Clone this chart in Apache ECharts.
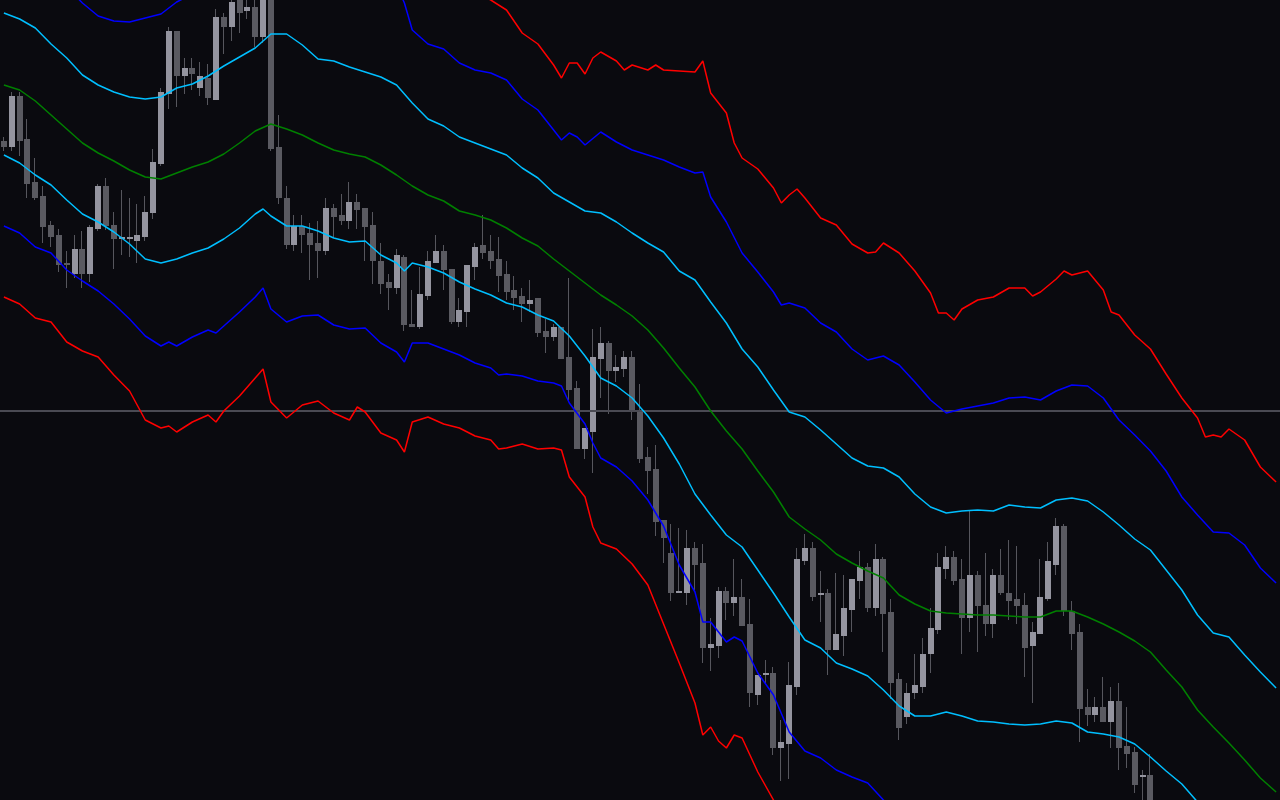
<!DOCTYPE html>
<html><head><meta charset="utf-8">
<script src="https://cdn.jsdelivr.net/npm/echarts@6/dist/echarts.min.js"></script>
<style>html,body{margin:0;padding:0;background:#0a0a0f;overflow:hidden}#c{width:1280px;height:800px}</style>
</head><body><div id="c"></div><script>
// Values are on an inverted price scale (axis runs downward, 0..800 units).
const opens=[141,147,96,139,182,196,225,235,263,274,249,274,229,186,225,239,239,241,237,213,164,94,31,76,68,88,78,100,17,27,-4,11,7,37,-2,147,198,245,226,233,243,251,208,215,221,202,208,225,261,282,288,257,324,327,296,263,251,269,322,312,267,245,251,259,274,290,296,304,298,331,337,327,357,388,449,432,359,343,371,369,357,410,457,469,520,553,593,593,548,563,648,646,591,603,597,624,695,675,673,748,744,687,561,548,595,593,650,636,610,581,567,608,559,612,679,717,693,687,654,630,569,557,579,618,575,605,624,575,593,599,605,646,634,599,565,526,611,632,707,715,707,722,701,746,752,777,775];
const closes=[147,96,141,184,198,227,237,265,265,249,274,227,186,226,239,237,237,235,212,162,92,31,76,68,74,76,98,17,27,2,13,7,37,-3,149,198,245,226,235,245,251,208,217,221,202,210,227,261,284,288,255,325,327,294,261,251,270,322,310,265,247,253,261,276,292,298,304,300,333,337,327,359,390,449,428,357,343,371,367,357,412,459,471,522,538,593,591,548,565,648,644,591,603,597,626,693,675,673,748,742,685,559,548,597,593,650,634,608,579,567,608,559,614,683,728,693,685,654,628,567,557,581,618,575,606,624,575,593,601,606,648,632,597,561,526,611,634,709,715,707,722,701,748,754,785,775,815];
const highs=[137,92,92,119,158,186,221,229,251,235,231,225,184,178,212,190,198,204,196,149,88,27,31,58,58,62,64,9,13,-8,-10,-6,-4,-10,-8,115,186,215,215,223,221,198,204,194,182,194,208,212,243,274,249,255,290,267,251,235,245,269,298,265,243,215,235,237,261,276,288,280,298,319,324,327,278,381,428,329,327,341,355,351,351,384,447,445,520,524,528,530,542,544,618,587,587,559,579,599,675,660,667,720,662,548,534,542,571,589,573,575,579,551,563,544,557,599,673,683,654,638,608,553,546,551,559,510,571,553,569,549,540,546,593,622,559,542,518,524,601,624,689,697,677,687,683,707,747,770,754];
const lows=[151,151,156,198,200,243,247,272,288,278,288,282,231,230,269,255,257,263,241,219,166,109,107,94,90,96,105,100,54,41,33,19,47,43,151,204,249,251,253,280,278,255,237,225,229,229,261,284,294,310,294,331,327,329,300,263,290,324,327,327,280,259,269,292,300,310,322,312,337,353,341,359,400,449,459,473,398,414,382,377,420,463,494,536,563,601,593,605,590,663,671,658,620,616,626,707,705,683,755,781,779,695,565,601,622,675,650,656,632,599,612,616,652,699,740,724,699,693,673,634,579,585,654,632,652,636,638,595,620,624,677,703,634,601,575,616,650,742,726,722,722,748,770,768,793,810,825];

// Band lines: [bar index, value]
const midBand=[[0,85],[2,90],[4,101],[6,115],[8,129],[10,143],[12,153],[14,161],[16,170],[18,177],[20,179],[22,173],[24,167],[26,162],[28,154],[30,143],[32,131],[34,124],[36,129],[38,135],[40,143],[42,150],[44,154],[46,157],[48,165],[50,175],[52,186],[54,195],[56,201],[58,211],[60,215],[62,220],[64,228],[66,238],[68,246],[70,259],[72,271],[74,283],[76,295],[78,305],[80,316],[82,330],[84,348],[86,368],[88,387],[90,411],[92,431],[94,449],[96,471],[98,492],[100,517],[102,529],[104,540],[106,554],[108,563],[110,571],[112,578],[114,595],[116,604],[118,611],[120,613],[122,614],[124,615],[126,615],[128,616],[130,617],[132,617],[134,611],[136,611],[138,617],[140,624],[142,632],[144,641],[146,652],[148,670],[150,687],[152,710],[154,727],[156,743],[158,760],[160,778],[162,792]];
const upper1=[[0,13],[2,19],[4,28],[6,44],[8,58],[10,75],[12,85],[14,92],[16,97],[18,99],[20,97],[22,88],[24,84],[26,76],[28,66],[30,57],[32,48],[34,34],[36,34],[38,45],[40,59],[42,61],[44,67],[46,72],[48,77],[50,85],[52,103],[54,119],[56,126],[58,137],[60,143],[62,149],[64,155],[66,168],[68,178],[70,193],[72,202],[74,211],[76,213],[78,222],[80,233],[82,243],[84,252],[86,271],[88,280],[90,302],[92,323],[94,349],[96,367],[98,390],[100,412],[102,417],[104,430],[106,444],[108,458],[110,466],[112,468],[114,477],[116,494],[118,507],[120,513],[122,511],[124,510],[126,511],[128,505],[130,507],[132,508],[134,500],[136,498],[138,501],[140,512],[142,525],[144,539],[146,550],[148,570],[150,590],[152,615],[154,633],[156,637],[158,655],[160,672],[162,688]];
const lower1=[[0,155],[2,163],[4,175],[6,185],[8,200],[10,214],[12,222],[14,232],[16,244],[18,259],[20,263],[22,259],[24,253],[26,248],[28,239],[30,228],[32,214],[33,209],[34,216],[36,226],[38,226],[40,231],[42,238],[44,242],[46,241],[48,255],[50,263],[51,271],[52,263],[54,267],[56,273],[58,282],[60,289],[62,295],[64,303],[66,307],[68,315],[70,321],[72,336],[74,356],[76,378],[78,386],[80,398],[82,416],[84,438],[86,464],[88,494],[90,515],[92,535],[94,547],[96,570],[98,593],[100,617],[102,640],[104,648],[106,663],[108,669],[110,676],[112,690],[114,706],[116,716],[118,716],[120,712],[122,716],[124,721],[126,722],[128,724],[130,725],[132,724],[134,721],[136,723],[138,732],[140,734],[142,737],[144,744],[146,757],[148,771],[150,784],[152,802],[154,815]];
const upper2=[[0,-60],[2,-52],[4,-45],[6,-27],[8,-13],[10,3],[12,16],[14,21],[16,22],[18,18],[20,14],[22,2],[24,-6],[26,-10],[28,-22],[30,-29],[32,-35],[34,-56],[36,-61],[38,-45],[40,-25],[42,-28],[44,-20],[46,-13],[48,-11],[50,-15],[51,3],[52,30],[54,44],[56,49],[58,63],[60,70],[62,73],[64,80],[66,99],[68,110],[70,130],[71,140],[72,133],[73,137],[74,145],[76,132],[78,142],[80,150],[82,155],[84,160],[86,167],[88,173],[89,172],[90,197],[92,222],[94,253],[96,272],[98,292],[99,305],[100,303],[102,308],[104,323],[106,332],[108,349],[110,360],[112,356],[114,365],[116,382],[118,400],[120,413],[122,409],[124,406],[126,403],[128,398],[130,397],[132,400],[134,391],[136,385],[138,386],[140,398],[142,420],[144,435],[146,451],[148,471],[150,497],[152,515],[154,532],[156,533],[158,545],[160,568],[162,583]];
const lower2=[[0,226],[2,233],[4,247],[6,253],[8,270],[10,281],[12,291],[14,304],[16,319],[18,336],[20,346],[21,342],[22,346],[24,337],[26,330],[27,333],[28,326],[30,312],[32,297],[33,288],[34,309],[36,322],[38,316],[40,315],[42,325],[44,329],[46,328],[48,343],[50,352],[51,362],[52,343],[54,343],[56,349],[58,355],[60,363],[62,368],[63,375],[64,374],[66,376],[68,381],[70,383],[71,386],[72,403],[74,424],[75,443],[76,458],[78,467],[80,481],[82,500],[84,526],[86,565],[88,592],[89,622],[90,622],[92,642],[93,637],[94,641],[96,673],[98,695],[100,732],[102,751],[104,758],[106,770],[108,777],[110,783],[112,800],[114,815]];
const upper3=[[56,-35],[58,-20],[60,-8],[62,0],[64,10],[66,33],[68,44],[70,65],[71,78],[72,63],[73,63],[74,74],[75,58],[76,52],[78,61],[79,70],[80,65],[82,70],[83,65],[84,70],[86,71],[88,72],[89,61],[90,93],[92,113],[93,143],[94,158],[96,169],[98,188],[99,203],[100,195],[101,189],[102,198],[104,218],[106,225],[108,244],[110,253],[111,252],[112,243],[114,253],[116,271],[118,293],[119,313],[120,313],[121,320],[122,309],[124,300],[126,297],[128,288],[130,288],[131,296],[132,292],[134,279],[135,271],[136,275],[138,271],[140,290],[141,312],[142,315],[144,335],[146,349],[148,374],[150,398],[152,418],[153,437],[154,435],[155,437],[156,429],[158,440],[160,467],[162,482]];
const lower3=[[0,297],[2,304],[4,318],[6,322],[8,342],[10,351],[12,357],[14,375],[16,391],[18,420],[20,428],[21,426],[22,432],[24,422],[26,415],[27,422],[28,411],[30,396],[32,378],[33,369],[34,402],[36,418],[38,405],[40,401],[42,413],[44,420],[45,407],[46,412],[48,433],[50,440],[51,452],[52,422],[54,417],[56,424],[58,428],[60,436],[62,440],[63,449],[64,448],[66,444],[68,449],[70,448],[71,450],[72,477],[74,497],[75,527],[76,543],[78,549],[80,564],[82,585],[84,624],[86,663],[88,703],[89,735],[90,727],[91,741],[92,748],[93,735],[94,738],[96,772],[98,800],[100,830]];
const priceLevel=411;
const barCount=163;

const categories=[];
for(let i=0;i<barCount;i++) categories.push(String(i));
const candleData=opens.map((o,i)=>[i,o,closes[i],lows[i],highs[i]]);

const lightBody='#94949f', darkBody='#5a5a61', wickColor='#56565d';
function renderCandle(params, api){
  const i=api.value(0);
  const pO=api.coord([i,api.value(1)]), pC=api.coord([i,api.value(2)]);
  const pA=api.coord([i,api.value(3)]), pB=api.coord([i,api.value(4)]);
  const cx=Math.round(pO[0]);
  const bull=pC[1]<pO[1];
  const top=Math.round(Math.min(pO[1],pC[1])), bot=Math.round(Math.max(pO[1],pC[1]));
  const wt=Math.round(Math.min(pA[1],pB[1])), wb=Math.round(Math.max(pA[1],pB[1]));
  return {type:'group',children:[
    {type:'rect',shape:{x:cx-1,y:wt,width:1,height:Math.max(1,wb-wt)},style:{fill:wickColor}},
    {type:'rect',shape:{x:cx-3,y:top,width:6,height:Math.max(2,bot-top)},style:{fill:bull?lightBody:darkBody}}
  ]};
}
function band(data,color){
  return {type:'line',data:data,showSymbol:false,symbol:'none',smooth:false,silent:true,z:5,
    lineStyle:{color:color,width:1.5},animation:false};
}
const chart=echarts.init(document.getElementById('c'),null,{renderer:'canvas'});
chart.setOption({
  backgroundColor:'#0a0a0f',
  animation:false,
  grid:{left:-2,right:0,top:0,bottom:0,containLabel:false},
  xAxis:{type:'category',data:categories,boundaryGap:true,show:false},
  yAxis:{type:'value',inverse:true,min:0,max:800,show:false,splitLine:{show:false}},
  series:[
    {type:'line',data:[],silent:true,z:1,
      markLine:{silent:true,symbol:'none',label:{show:false},animation:false,
        lineStyle:{color:'#4a4a53',width:2,type:'solid'},data:[{yAxis:priceLevel}]}},
    {type:'custom',renderItem:renderCandle,data:candleData,encode:{x:0,y:[1,2,3,4]},z:3,silent:true},
    band(midBand,'#008000'),
    band(upper1,'#00bfff'),band(lower1,'#00bfff'),
    band(upper2,'#0000ff'),band(lower2,'#0000ff'),
    band(upper3,'#ff0000'),band(lower3,'#ff0000')
  ]
});
</script></body></html>
